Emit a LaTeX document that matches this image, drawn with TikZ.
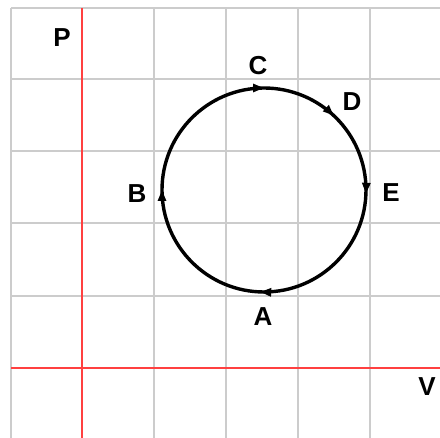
\documentclass[tikz,border=0pt]{standalone}
\usepackage{fontspec}
\setmainfont{Liberation Sans}
\usetikzlibrary{arrows.meta,decorations.markings}
\tikzset{
  gridline/.style={draw=black!20, line width=1.4pt},
  axisline/.style={draw=red!75, line width=1.4pt},
  lbl/.style={font=\fontsize{26}{26}\selectfont\bfseries, inner sep=0pt},
  cycle/.style={line width=3.4pt, postaction={decorate}, decoration={markings,
    mark=at position 0.006 with {\arrow{Triangle[length=11pt,width=8pt]}},
    mark=at position 0.256 with {\arrow{Triangle[length=11pt,width=8pt]}},
    mark=at position 0.5 with {\arrow{Triangle[length=11pt,width=8pt]}},
    mark=at position 0.75 with {\arrow{Triangle[length=11pt,width=8pt]}},
    mark=at position 0.87 with {\arrow{Triangle[length=11pt,width=8pt]}}}}
}
\begin{document}
\begin{tikzpicture}[x=1pt,y=-1pt]
\useasboundingbox (0,0) rectangle (440,438);
\fill[white] (0,0) rectangle (440,438);
% grid
\foreach \gx in {11,154,226,298,370} \draw[gridline] (\gx,8) -- (\gx,438);
\foreach \gy in {8,79,151,223,296} \draw[gridline] (11,\gy) -- (440,\gy);
% axes
\draw[axisline] (82,8) -- (82,438);
\draw[axisline] (11,368) -- (440,368);
% cycle
\coordinate (ctr) at (264,190);
\draw[cycle] (366,190) arc[start angle=0, end angle=360, radius=102];
% labels
\node[lbl] (P) at (62,38) {P};
\node[lbl] (C) at (258,66) {C};
\node[lbl] (D) at (352,102) {D};
\node[lbl] (B) at (137,194) {B};
\node[lbl] (E) at (391,193) {E};
\node[lbl] (A) at (263,317) {A};
\node[lbl] (V) at (427,387) {V};
\end{tikzpicture}
\end{document}
